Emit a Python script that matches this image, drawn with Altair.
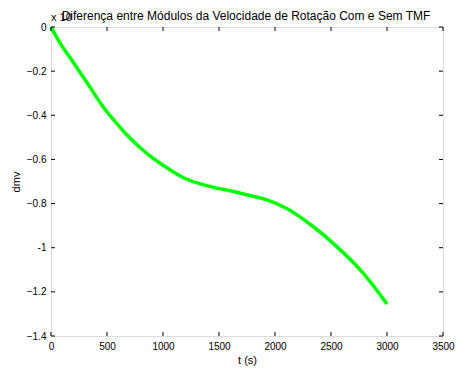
import altair as alt
import pandas as pd

t_vals = [0, 65, 215, 334, 452, 571, 720, 869, 1035, 1183, 1332, 1481, 1630, 1779, 1928, 2105, 2343, 2552, 2789, 3000]
dmv_vals = [0.0, -0.059, -0.172, -0.262, -0.352, -0.428, -0.511, -0.578, -0.638, -0.683, -0.711, -0.730, -0.745, -0.764, -0.783, -0.822, -0.905, -0.995, -1.116, -1.255]
x_ticks = [0, 500, 1000, 1500, 2000, 2500, 3000, 3500]
y_ticks = [0, -0.2, -0.4, -0.6, -0.8, -1.0, -1.2, -1.4]
title_text = "Diferença entre Módulos da Velocidade de Rotação Com e Sem TMF"
exp_text = "x 10"

W, H = 392, 309
FONT = "Liberation Sans"

df = pd.DataFrame({"t": t_vals, "dmv": dmv_vals})
xt = pd.DataFrame({"v": x_ticks})
yt = pd.DataFrame({"v": y_ticks})

xs = alt.Scale(domain=[0, 3500], nice=False, zero=False)
ys = alt.Scale(domain=[-1.4, 0], nice=False, zero=False)

line = alt.Chart(df).mark_line(color="#00ff00", strokeWidth=3.5, interpolate="monotone").encode(
    x=alt.X("t:Q", scale=xs, title="t (s)",
            axis=alt.Axis(values=x_ticks, format="d", tickSize=0, labelPadding=5, titlePadding=3,
                          grid=False, domain=False, labelFontSize=10, titleFontSize=11,
                          labelFont=FONT, titleFont=FONT, titleFontWeight="normal",
                          labelColor="black", titleColor="black", labelFlush=False)),
    y=alt.Y("dmv:Q", scale=ys, title="dmv",
            axis=alt.Axis(values=y_ticks, tickSize=0, labelPadding=5, titlePadding=5,
                          grid=False, domain=False, labelFontSize=10, titleFontSize=11,
                          labelFont=FONT, titleFont=FONT, titleFontWeight="normal",
                          labelColor="black", titleColor="black",
                          labelExpr="datum.value == 0 ? '0' : (datum.value == -1 ? '-1' : format(datum.value, '.1f'))")),
)

tick_len = 4
bottom_ticks = alt.Chart(xt).mark_rule(color="black", strokeWidth=1).encode(
    x=alt.X("v:Q", scale=xs), y=alt.value(H), y2=alt.value(H - tick_len))
top_ticks = alt.Chart(xt).mark_rule(color="black", strokeWidth=1).encode(
    x=alt.X("v:Q", scale=xs), y=alt.value(0), y2=alt.value(tick_len))
left_ticks = alt.Chart(yt).mark_rule(color="black", strokeWidth=1).encode(
    y=alt.Y("v:Q", scale=ys), x=alt.value(0), x2=alt.value(tick_len))
right_ticks = alt.Chart(yt).mark_rule(color="black", strokeWidth=1).encode(
    y=alt.Y("v:Q", scale=ys), x=alt.value(W), x2=alt.value(W - tick_len))

exp_label = alt.Chart(pd.DataFrame({"s": [exp_text]})).mark_text(
    font=FONT, fontSize=11, color="black", align="left", baseline="alphabetic", clip=False
).encode(x=alt.value(0), y=alt.value(-6), text="s:N")

title_mark = alt.Chart(pd.DataFrame({"s": [title_text]})).mark_text(
    font=FONT, fontSize=12, color="black", align="center", baseline="alphabetic", clip=False
).encode(x=alt.value(W / 2 - 1), y=alt.value(-7), text="s:N")

chart = alt.layer(line, bottom_ticks, top_ticks, left_ticks, right_ticks, exp_label, title_mark).properties(
    width=W, height=H,
    autosize=alt.AutoSizeParams(type="none"),
    padding={"left": 51, "top": 27, "right": 13, "bottom": 34},
).configure_view(stroke="black", strokeWidth=1).configure(background="white")

chart.save("out.html", embed_options={"renderer": "svg", "actions": False})
